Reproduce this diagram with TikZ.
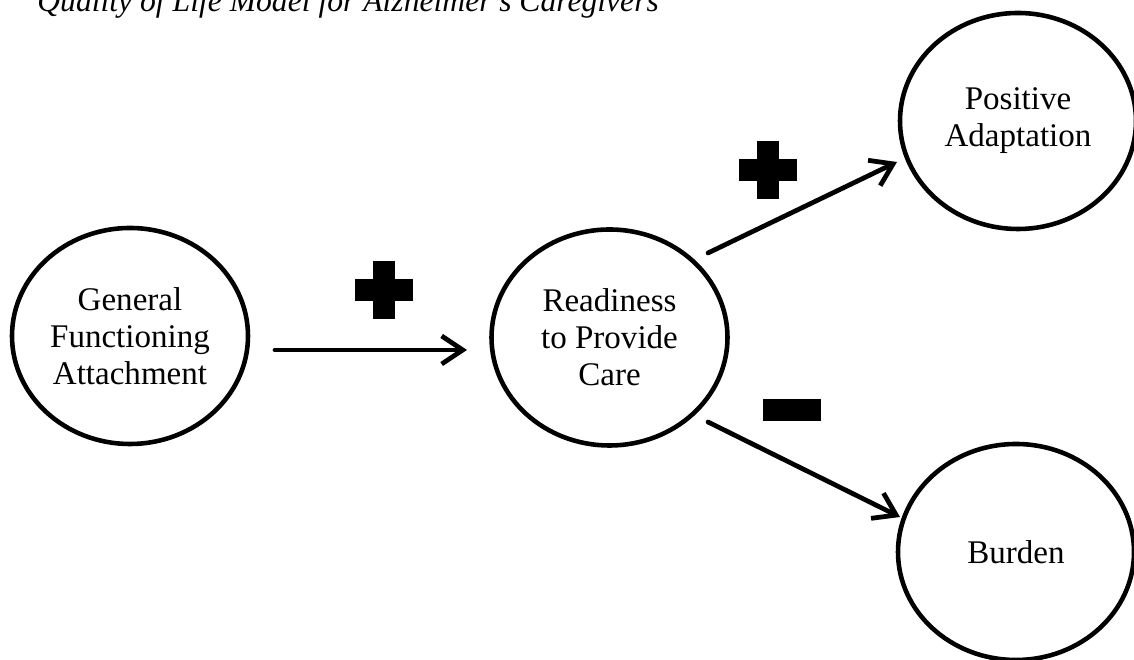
\documentclass[tikz,border=0pt]{standalone}
\usepackage{fontspec}
\setmainfont{Liberation Serif}
\usetikzlibrary{calc,shapes.geometric,arrows.meta}
\definecolor{qolink}{HTML}{000000}
\definecolor{qolbg}{HTML}{FFFFFF}

\begin{document}
\begin{tikzpicture}[
        every node/.style={font=\fontsize{18.8}{21}\selectfont},
        c/.style={
          ellipse, draw=qolink, line width=2.6pt,
          fill=qolbg, text=qolink,
          inner sep=0pt,
          minimum width=4.72cm, minimum height=4.32cm, align=center,
        },
        arr/.style={-{Straight Barb[length=12pt,width=16pt]}, draw=qolink, line width=2.7pt, line cap=round},
        bar/.style={fill=qolink, inner sep=0pt, minimum width=1.16cm, minimum height=0.44cm},
        ttl/.style={font=\fontsize{18}{21}\selectfont\itshape, text=qolink, inner sep=0pt},
      ]
      \useasboundingbox (0,0) rectangle (22.68,13.2);
      \node[ttl, anchor=base west] (title) at (0.74,12.96) {Quality of Life Model for Alzheimer's Caregivers};
      \node[c] (gfa) at (2.6,6.48)   {General\\Functioning\\Attachment};
      \node[c] (rpc) at (12.19,6.45) {Readiness\\to Provide\\Care};
      \node[c] (pa)  at (20.36,10.78) {Positive\\Adaptation};
      \node[c] (bur) at (20.32,2.16) {Burden};
      \draw[arr] ($(gfa)+(2.9,-0.28)$) -- ($(rpc)+(-2.85,-0.25)$);
      \draw[arr] ($(rpc)+(1.97,1.69)$) -- ($(pa)+(-2.42,-0.82)$);
      \draw[arr] ($(rpc)+(1.97,-1.69)$) -- ($(bur)+(-2.32,0.70)$);
      % signs
      \node[bar] (plusah) at (7.68,7.4) {};
      \node[bar, rotate=90] (plusav) at (7.68,7.4) {};
      \node[bar] (plusbh) at (15.36,9.8) {};
      \node[bar, rotate=90] (plusbv) at (15.36,9.8) {};
      \node[bar] (minus) at (15.84,5.0) {};
    \end{tikzpicture}
\end{document}
